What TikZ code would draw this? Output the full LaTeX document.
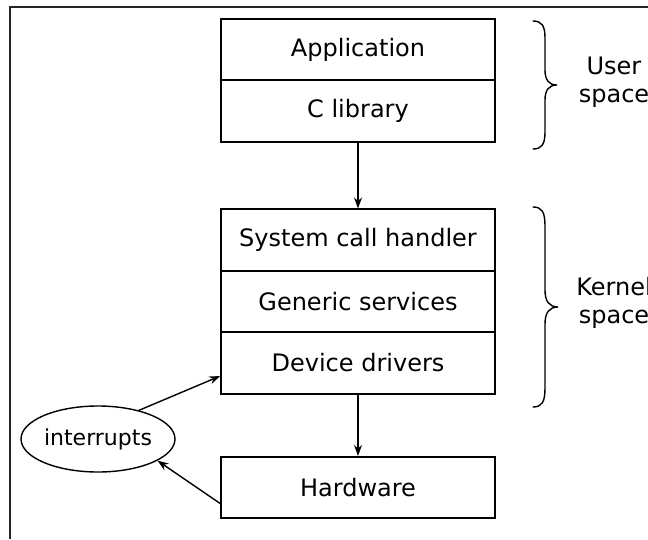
\documentclass[tikz,border=0pt]{standalone}
\usepackage{fontspec}
\setmainfont{DejaVu Sans}
\usetikzlibrary{arrows.meta,shapes.geometric}
\begin{document}
\begin{tikzpicture}[x=1pt,y=-1pt,
  layer/.style={draw, line width=1.6pt, minimum width=274pt, minimum height=61.5pt, inner sep=0pt,
    font=\fontsize{24}{28}\selectfont},
  arr/.style={-{Stealth[length=11pt,width=8pt]}, line width=1.4pt},
  brace/.style={line width=1.4pt, line cap=round},
  side/.style={align=center, font=\fontsize{24}{28}\selectfont}]
\useasboundingbox (0,0) rectangle (648,539);
\draw[line width=1.5pt, black!85] (10,539) -- (10,7) -- (648,7);
\node[layer] (app) at (358,49.5) {Application};
\node[layer] (clib) at (358,111) {C library};
\node[layer] (sys) at (358,240) {System call handler};
\node[layer] (gen) at (358,301.5) {Generic services};
\node[layer] (dev) at (358,363) {Device drivers};
\node[layer] (hw) at (358,487.5) {Hardware};
\node[ellipse, draw, line width=1.4pt, minimum width=154pt, minimum height=66pt, inner sep=0pt,
  font=\fontsize{22}{26}\selectfont] (intr) at (98,439) {interrupts};
\draw[arr] (clib.south) -- (sys.north);
\draw[arr] (dev.south) -- (hw.north);
\draw[arr] (intr.35) -- ([yshift=-13pt]dev.west);
\draw[arr] ([yshift=-16pt]hw.west) -- (intr.-20);
% braces
\draw[brace] (533,21) .. controls (542,21) and (545,26) .. (545,38) -- (545,70) .. controls (545,80) and (549,85) .. (557,85)
  .. controls (549,85) and (545,90) .. (545,100) -- (545,132) .. controls (545,144) and (542,149) .. (533,149);
\draw[brace] (533,207) .. controls (542,207) and (545,212) .. (545,226) -- (545,290) .. controls (545,301) and (549,307) .. (558,307)
  .. controls (549,307) and (545,313) .. (545,324) -- (545,388) .. controls (545,402) and (542,407) .. (533,407);
\node[side] (user) at (614,82) {User\\space};
\node[side] (kern) at (614,303) {Kernel\\space};
\end{tikzpicture}
\end{document}
